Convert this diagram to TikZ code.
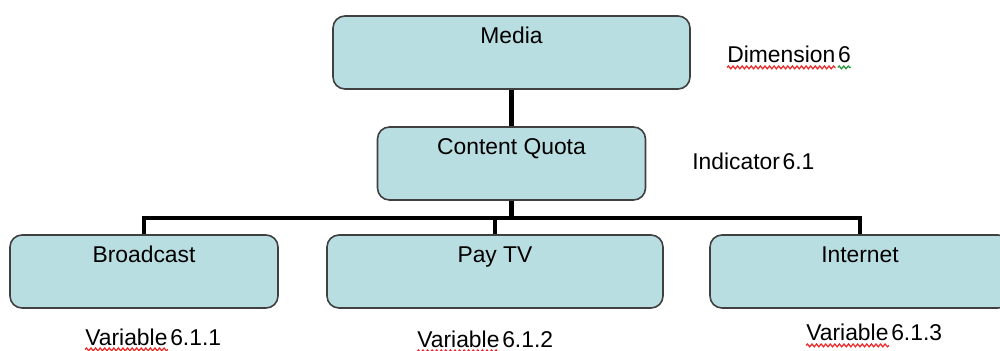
\documentclass[tikz,border=0pt]{standalone}
\usepackage{fontspec}
\setmainfont{Liberation Sans}
\usepackage{tikz}
\usetikzlibrary{decorations.pathmorphing}
\definecolor{boxfill}{RGB}{185,222,226}
\definecolor{boxline}{RGB}{64,64,64}
\definecolor{spellred}{RGB}{235,40,40}
\definecolor{spellgreen}{RGB}{40,150,60}
\tikzset{
  unit/.style={draw=boxline, line width=0.9pt, fill=boxfill, rounded corners=0.24cm,
    inner ysep=0pt, text height=0.56cm, text depth=0.9cm},
  link/.style={line width=2.3pt},
  tag/.style={inner sep=0pt, anchor=base west},
  spell/.style={#1, line width=0.7pt, decorate,
    decoration={snake, segment length=2.6pt, amplitude=0.8pt}}
}

\begin{document}
\begin{tikzpicture}[font=\fontsize{13}{16}\selectfont]
\useasboundingbox (0,0) rectangle (20,-7.02);
\node[unit, minimum width=7.14cm] (media) at (10.23,-1.05) {Media};
\node[unit, minimum width=5.36cm] (quota) at (10.23,-3.27) {Content Quota};
\node[unit, minimum width=5.36cm] (broadcast) at (2.88,-5.43) {Broadcast};
\node[unit, minimum width=6.72cm] (paytv) at (9.90,-5.43) {Pay TV};
\node[unit, minimum width=6.00cm] (internet) at (17.20,-5.43) {Internet};

\draw[link] (media.south) -- (quota.north);
\draw[link] (quota.south) -- ++(0,-0.35) coordinate (bus);
\draw[link] (bus) -| (broadcast.north);
\draw[link] (bus) -| (paytv.north);
\draw[link] (bus) -| (internet.north);

\node[tag] (dimword) at (14.54,-1.26) {Dimension};
\node[tag] (dimnum) at ([xshift=1.2pt]dimword.base east) {6};
\node[tag] (indicator) at (13.84,-3.40) {Indicator\kern1.5pt 6.1};
\node[tag] (var1word) at (1.70,-6.90) {Variable};
\node[tag] (var1num) at ([xshift=1.2pt]var1word.base east) {6.1.1};
\node[tag] (var2word) at (8.34,-6.94) {Variable};
\node[tag] (var2num) at ([xshift=1.2pt]var2word.base east) {6.1.2};
\node[tag] (var3word) at (16.12,-6.82) {Variable};
\node[tag] (var3num) at ([xshift=1.2pt]var3word.base east) {6.1.3};

\draw[spell=spellred] ([yshift=-2.5pt]dimword.base west) -- ([yshift=-2.5pt]dimword.base east);
\draw[spell=spellgreen] ([yshift=-2.5pt]dimnum.base west) -- ([yshift=-2.5pt]dimnum.base east);
\draw[spell=spellred] ([yshift=-2.5pt]var1word.base west) -- ([yshift=-2.5pt]var1word.base east);
\draw[spell=spellred] ([yshift=-2.5pt]var2word.base west) -- ([yshift=-2.5pt]var2word.base east);
\draw[spell=spellred] ([yshift=-2.5pt]var3word.base west) -- ([yshift=-2.5pt]var3word.base east);
\end{tikzpicture}
\end{document}
